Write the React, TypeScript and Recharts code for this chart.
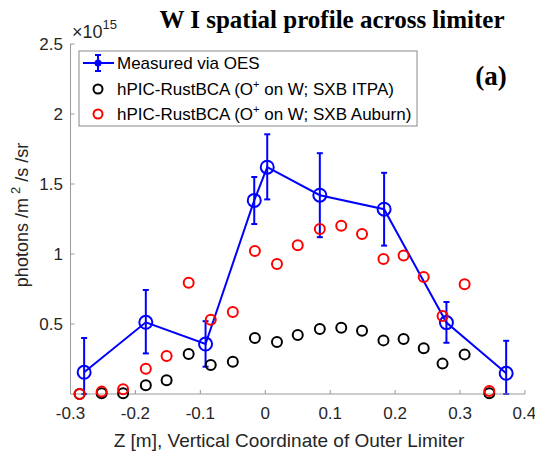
import { ScatterChart, Scatter, XAxis, YAxis, ErrorBar } from 'recharts';

// measured W I brightness (x1e15 photons/m^2/s/sr) vs Z [m]
const measZ = [-0.279, -0.184, -0.092, -0.017, 0.003, 0.084, 0.183, 0.279, 0.371];
const measVal = [0.155, 0.512, 0.357, 1.383, 1.62, 1.42, 1.32, 0.51, 0.148];
const measErrLow = [0.155, 0.222, 0.162, 0.169, 0.23, 0.3, 0.26, 0.144, 0.148];
const measErrHigh = [0.245, 0.231, 0.163, 0.167, 0.235, 0.3, 0.26, 0.147, 0.232];

// hPIC-RustBCA synthetic profiles
const simZ = [
  -0.286, -0.252, -0.219, -0.184, -0.152, -0.118, -0.084, -0.05, -0.016, 0.018,
  0.05, 0.084, 0.117, 0.149, 0.182, 0.213, 0.244, 0.273, 0.307, 0.345,
];
const itpaVal = [
  0, 0.005, 0.005, 0.062, 0.098, 0.286, 0.207, 0.231, 0.4, 0.371,
  0.421, 0.464, 0.474, 0.452, 0.383, 0.393, 0.326, 0.217, 0.283, 0.005,
];
const auburnVal = [
  0, 0.017, 0.034, 0.181, 0.271, 0.795, 0.531, 0.586, 1.021, 0.929,
  1.062, 1.179, 1.202, 1.143, 0.964, 0.99, 0.836, 0.557, 0.784, 0.021,
];

const xTicks = [-0.3, -0.2, -0.1, 0, 0.1, 0.2, 0.3, 0.4];
const yTicks = [0.5, 1, 1.5, 2, 2.5];

const measured = measZ.map((z, i) => ({ z, v: measVal[i], err: [measErrLow[i], measErrHigh[i]] }));
const itpa = simZ.map((z, i) => ({ z, v: itpaVal[i] }));
const auburn = simZ.map((z, i) => ({ z, v: auburnVal[i] }));

const SANS = '"Liberation Sans", Arial, sans-serif';
const SERIF = '"Liberation Serif", "Times New Roman", serif';
const AXIS = '#999999';
const TICK = { fill: '#262626', fontSize: 17, fontFamily: SANS };

const ring = (color: string, r: number, w: number) => (p: any) => (
  <circle cx={p.cx} cy={p.cy} r={r} fill="none" stroke={color} strokeWidth={w} />
);

function Overlay() {
  return (
    <svg width={535} height={452} style={{ position: 'absolute', left: 0, top: 0, pointerEvents: 'none' }}>
      <text x={332} y={28} textAnchor="middle" fontFamily={SERIF} fontWeight="bold" fontSize={25} fill="#000">
        W I spatial profile across limiter
      </text>
      <text x={72} y={38} fontFamily={SANS} fontSize={18} fill="#262626">
        ×10<tspan dy={-9} fontSize={13}>15</tspan>
      </text>
      <text x={491} y={85} textAnchor="middle" fontFamily={SERIF} fontWeight="bold" fontSize={27} fill="#000">
        (a)
      </text>
      <text
        x={28}
        y={215}
        transform="rotate(-90, 28, 215)"
        textAnchor="middle"
        fontFamily={SANS}
        fontSize={18}
        fill="#262626"
      >
        photons /m<tspan dx={4} dy={-8} fontSize={13}>2</tspan>
        <tspan dy={8}> /s /sr</tspan>
      </text>
      <text x={289} y={447} textAnchor="middle" fontFamily={SANS} fontSize={19} fill="#262626">
        Z [m], Vertical Coordinate of Outer Limiter
      </text>

      {/* legend */}
      <rect x={79} y={51} width={338} height={75} fill="#fff" stroke="#888" strokeWidth={1} />
      <line x1={83} y1={63} x2={114} y2={63} stroke="#0000ff" strokeWidth={2} />
      <line x1={98} y1={55} x2={98} y2={71} stroke="#0000ff" strokeWidth={2} />
      <line x1={95} y1={55} x2={101} y2={55} stroke="#0000ff" strokeWidth={2} />
      <line x1={95} y1={71} x2={101} y2={71} stroke="#0000ff" strokeWidth={2} />
      <circle cx={98} cy={63} r={3.5} fill="#0000ff" />
      <circle cx={98} cy={89} r={4.5} fill="none" stroke="#000" strokeWidth={2} />
      <circle cx={98} cy={114} r={4.5} fill="none" stroke="#ff0000" strokeWidth={2} />
      <text x={117} y={68.5} fontFamily={SANS} fontSize={17} fill="#000">Measured via OES</text>
      <text x={117} y={94.5} fontFamily={SANS} fontSize={17} fill="#000">
        hPIC-RustBCA (O<tspan dy={-7} fontSize={11}>+</tspan><tspan dy={7}> on W; SXB ITPA)</tspan>
      </text>
      <text x={117} y={119.5} fontFamily={SANS} fontSize={17} fill="#000">
        hPIC-RustBCA (O<tspan dy={-7} fontSize={11}>+</tspan><tspan dy={7}> on W; SXB Auburn)</tspan>
      </text>
    </svg>
  );
}

export default function App() {
  return (
    <div style={{ position: 'absolute', left: 0, top: 0, width: 535, height: 452, background: '#fff' }}>
      <ScatterChart width={535} height={452} margin={{ top: 44, right: 10, bottom: 0, left: 0 }}>
        <XAxis
          type="number"
          dataKey="z"
          domain={[-0.3, 0.4]}
          ticks={xTicks}
          height={58}
          tickSize={-4}
          tickMargin={17}
          stroke={AXIS}
          tick={TICK}
        />
        <XAxis
          xAxisId="top"
          orientation="top"
          type="number"
          domain={[-0.3, 0.4]}
          ticks={xTicks}
          height={0}
          tickSize={-4}
          tick={false}
          stroke={AXIS}
          allowDataOverflow
        />
        <YAxis
          type="number"
          dataKey="v"
          domain={[0, 2.5]}
          ticks={yTicks}
          width={70.5}
          tickSize={-4}
          tickMargin={11.5}
          stroke={AXIS}
          tick={TICK}
        />
        <YAxis
          yAxisId="right"
          orientation="right"
          type="number"
          domain={[0, 2.5]}
          ticks={yTicks}
          width={0}
          tickSize={-4}
          tick={false}
          stroke={AXIS}
          allowDataOverflow
        />
        <Scatter
          data={measured}
          line={{ stroke: '#0000ff', strokeWidth: 2 }}
          lineType="joint"
          shape={ring('#0000ff', 6.5, 2)}
          isAnimationActive={false}
        >
          <ErrorBar dataKey="err" direction="y" width={3} stroke="#0000ff" strokeWidth={2} isAnimationActive={false} />
        </Scatter>
        <Scatter data={itpa} shape={ring('#000000', 5, 2)} isAnimationActive={false} />
        <Scatter data={auburn} shape={ring('#ff0000', 5, 2)} isAnimationActive={false} />
      </ScatterChart>
      <Overlay />
    </div>
  );
}
